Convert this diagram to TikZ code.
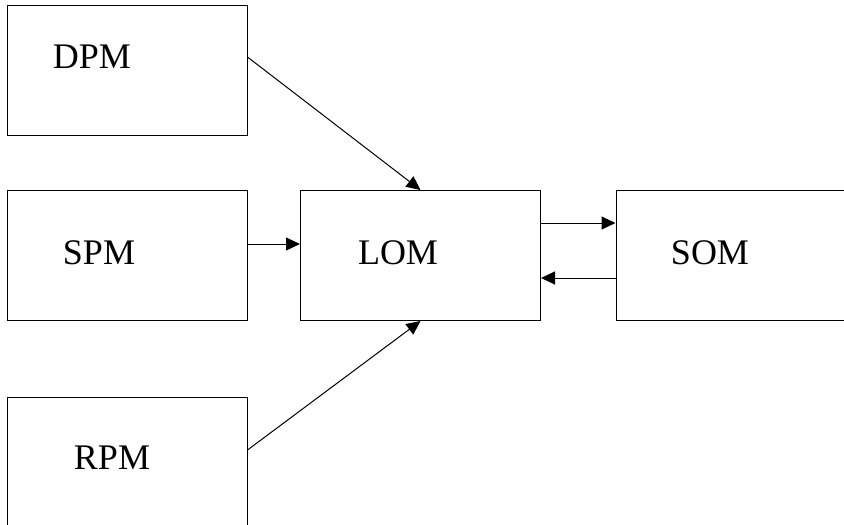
\documentclass[tikz,border=0pt]{standalone}
\usepackage{fontspec}
\setmainfont{Liberation Serif}
\usepackage{tikz}
\usetikzlibrary{positioning, arrows.meta}
\tikzset{
    modbox/.style={rectangle, draw, line width=1pt, minimum width=240pt, minimum height=130pt, inner sep=0pt},
    modtext/.style={font=\fontsize{36}{42}\selectfont, inner sep=0pt},
    modarrow/.style={-{Triangle[length=14pt, width=13pt]}, line width=1pt}
}
\begin{document}
\begin{tikzpicture}[x=1pt, y=1pt]
                    \useasboundingbox (0,0) rectangle (844,-525);
                    % module boxes
                    \node[modbox] (dpm) at (127,-70) {};
                    \node[modbox] (spm) at (127,-255.5) {};
                    \node[modbox] (rpm) at (127,-462) {};
                    \node[modbox] (lom) at (420.5,-255.5) {};
                    \node[modbox] (som) at (736,-255.5) {};

                    % labels, set off to the left of each box
                    \node[modtext] (dpmtxt) at (92,-57) {DPM};
                    \node[modtext] (spmtxt) at (99,-253) {SPM};
                    \node[modtext] (rpmtxt) at (112,-458) {RPM};
                    \node[modtext] (lomtxt) at (398,-253) {LOM};
                    \node[modtext] (somtxt) at (710,-253) {SOM};

                    % inputs to LOM
                    \draw[modarrow] ([yshift=13pt]dpm.east) -- (lom.north);
                    \draw[modarrow] ([yshift=11.5pt]spm.east) -- ([yshift=11.5pt]lom.west);
                    \draw[modarrow] ([yshift=12pt]rpm.east) -- (lom.south);

                    % LOM and SOM both ways
                    \draw[modarrow] ([yshift=32.5pt]lom.east) -- ([yshift=32.5pt]som.west);
                    \draw[modarrow] ([yshift=-22.5pt]som.west) -- ([yshift=-22.5pt]lom.east);
                \end{tikzpicture}
\end{document}
